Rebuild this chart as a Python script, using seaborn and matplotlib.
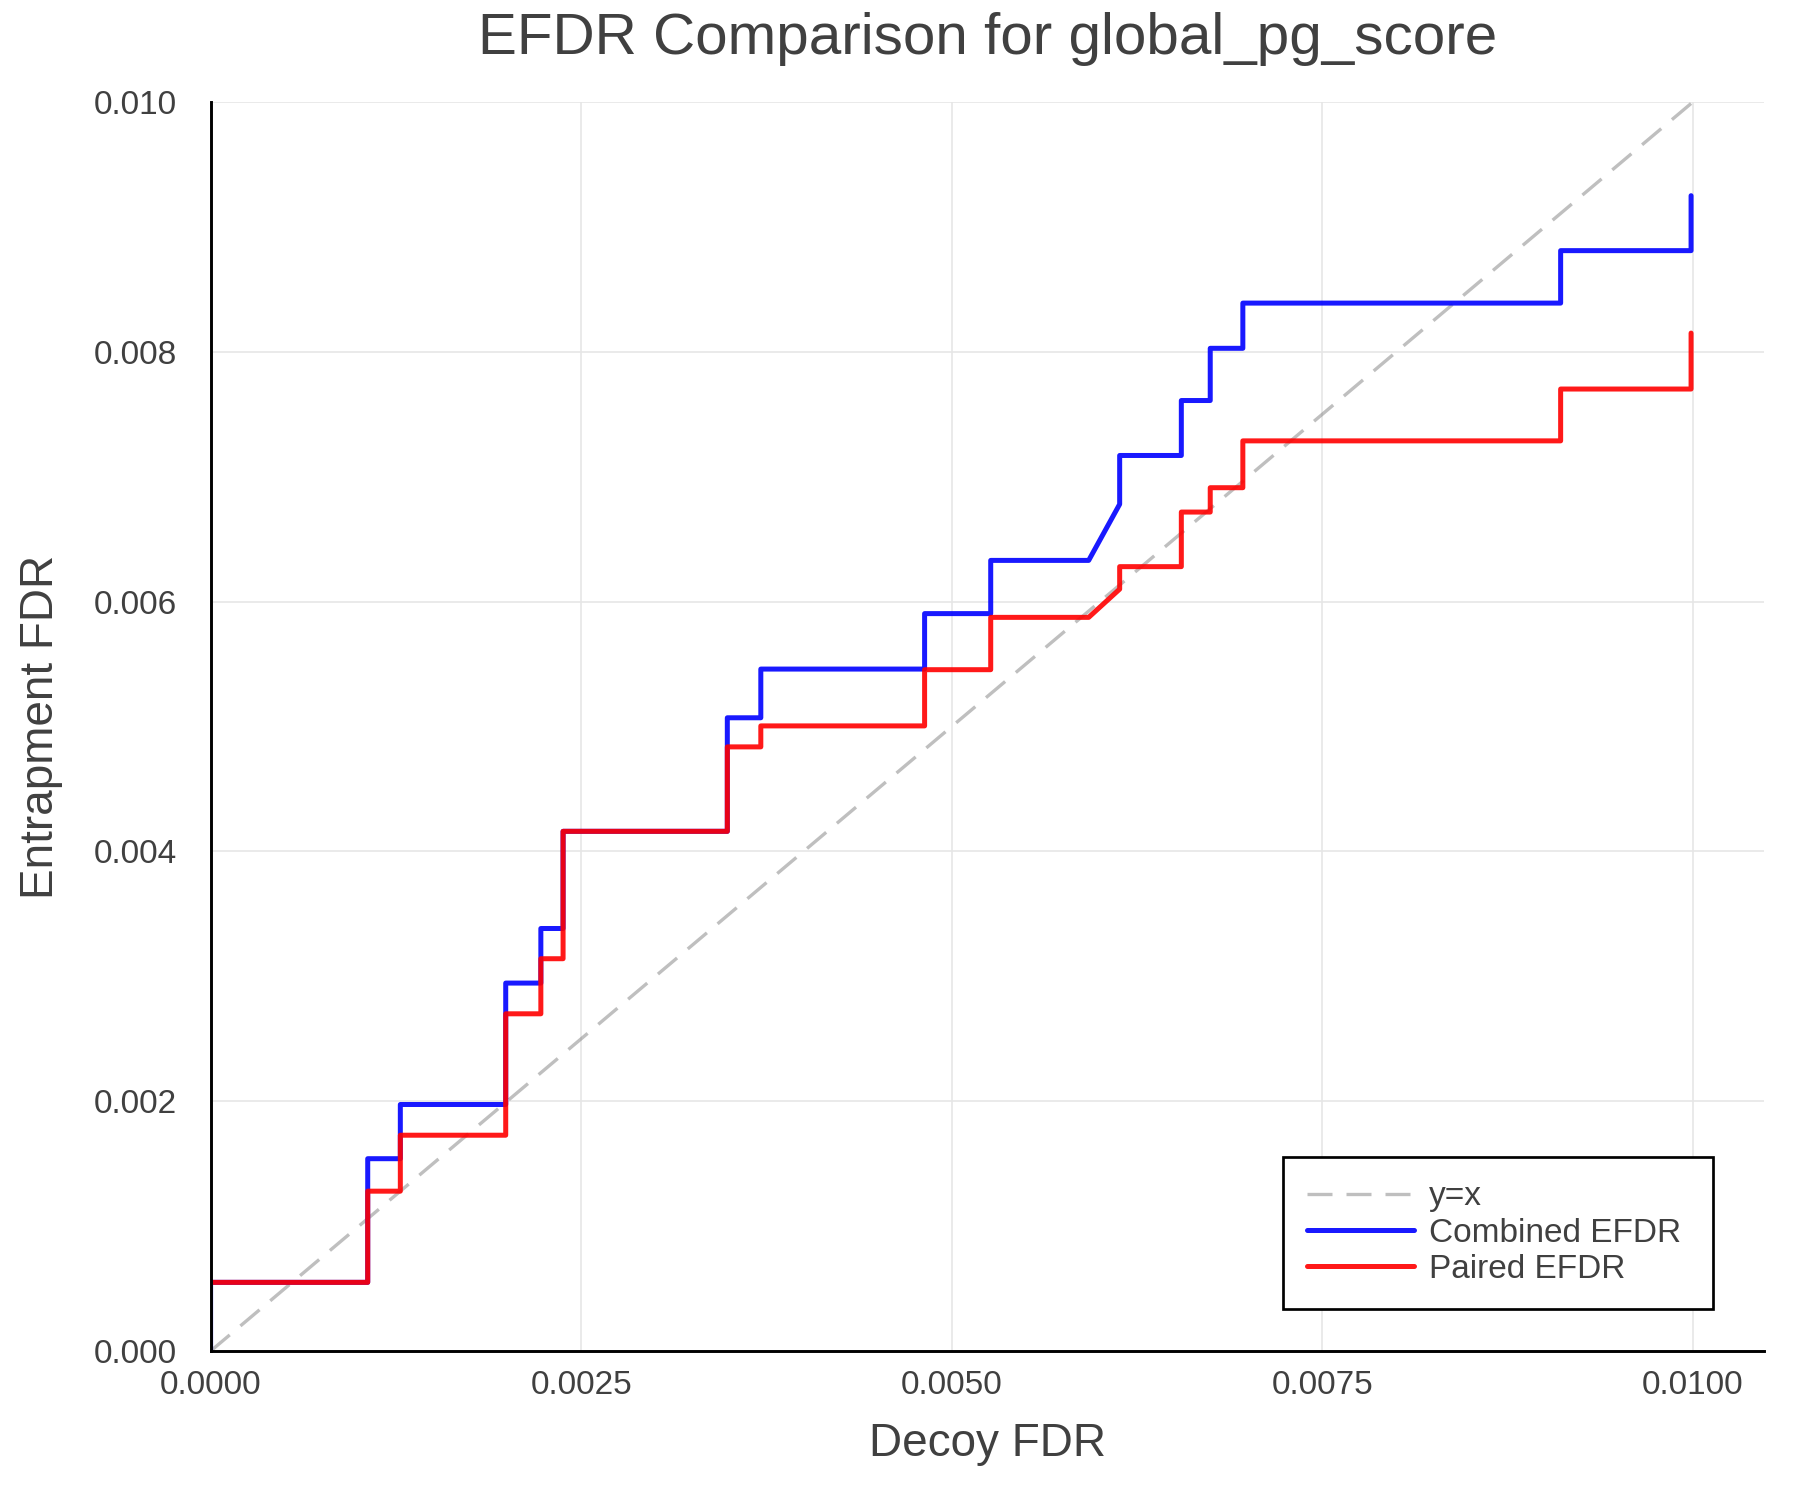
import matplotlib
matplotlib.use("Agg")
import matplotlib.pyplot as plt
import numpy as np
import pandas as pd
import seaborn as sns

# Step curves (vertices in drawing order)
combined_x = [0.0, 0.0, 0.00106, 0.00106, 0.00128, 0.00128, 0.001991, 0.001991,
              0.002228, 0.002228, 0.002378, 0.002378, 0.003486, 0.003486,
              0.003712, 0.003712, 0.004817, 0.004817, 0.005263, 0.005263,
              0.005924, 0.006133, 0.006133, 0.006549, 0.006549, 0.006744,
              0.006744, 0.006964, 0.006964, 0.009108, 0.009108, 0.009988, 0.009988]
combined_y = [0.0, 0.00055, 0.00055, 0.00154, 0.00154, 0.001974, 0.001974, 0.002946,
              0.002946, 0.003383, 0.003383, 0.004161, 0.004161, 0.00507,
              0.00507, 0.00546, 0.00546, 0.005904, 0.005904, 0.00633,
              0.00633, 0.00678, 0.00717, 0.00717, 0.00761, 0.00761,
              0.008028, 0.008028, 0.00839, 0.00839, 0.00881, 0.00881, 0.00925]

paired_x = [0.0, 0.00106, 0.00106, 0.00128, 0.00128, 0.001991, 0.001991,
            0.002228, 0.002228, 0.002378, 0.002378, 0.003486, 0.003486,
            0.003712, 0.003712, 0.004817, 0.004817, 0.005263, 0.005263,
            0.005924, 0.006133, 0.006133, 0.006549, 0.006549, 0.006744,
            0.006744, 0.006964, 0.006964, 0.009108, 0.009108, 0.009988, 0.009988]
paired_y = [0.00055, 0.00055, 0.00128, 0.00128, 0.001728, 0.001728, 0.0027,
            0.0027, 0.003141, 0.003141, 0.004161, 0.004161, 0.004837,
            0.004837, 0.005005, 0.005005, 0.005455, 0.005455, 0.005874,
            0.005874, 0.0061, 0.00628, 0.00628, 0.006717, 0.006717, 0.006912,
            0.006912, 0.007287, 0.007287, 0.007702, 0.007702, 0.00815]

diag_xy = [0.0, 0.01]

x_ticks = [0.0, 0.0025, 0.005, 0.0075, 0.01]
y_ticks = [0.0, 0.002, 0.004, 0.006, 0.008, 0.010]

TEXT = "#404040"

sns.set_style("white")
plt.rcParams["font.family"] = ["Liberation Sans", "DejaVu Sans"]

fig = plt.figure(figsize=(12, 10), dpi=150)
ax = fig.add_axes([0.117, 0.0993, 0.863, 0.8327])
ax.set_axisbelow(True)
ax.grid(True, color="#e6e6e6", lw=0.8)

ax.plot(diag_xy, diag_xy, color="gray", alpha=0.5, lw=1.6,
        linestyle=(0, (7.5, 4.2)), label="y=x")

df_comb = pd.DataFrame({"decoy_fdr": combined_x, "efdr": combined_y})
df_pair = pd.DataFrame({"decoy_fdr": paired_x, "efdr": paired_y})
sns.lineplot(data=df_comb, x="decoy_fdr", y="efdr", estimator=None, sort=False,
             color="blue", alpha=0.9, lw=2.4, label="Combined EFDR", ax=ax)
sns.lineplot(data=df_pair, x="decoy_fdr", y="efdr", estimator=None, sort=False,
             color="red", alpha=0.9, lw=2.4, label="Paired EFDR", ax=ax)

ax.set_xlim(0, 0.01048)
ax.set_ylim(0, 0.010)
ax.set_xticks(x_ticks)
ax.set_yticks(y_ticks)
ax.set_xticklabels([f"{v:.4f}" for v in x_ticks])
ax.set_yticklabels([f"{v:.3f}" for v in y_ticks])

for side in ["top", "right"]:
    ax.spines[side].set_visible(False)
for side in ["left", "bottom"]:
    ax.spines[side].set_color("black")
    ax.spines[side].set_linewidth(1.4)

ax.tick_params(axis="both", direction="in", length=7, width=1.4, color="black",
               labelsize=16, labelcolor=TEXT)
ax.tick_params(axis="x", pad=9)
ax.tick_params(axis="y", pad=16)

ax.set_xlabel("Decoy FDR", fontsize=22, color=TEXT, labelpad=10)
ax.set_ylabel("Entrapment FDR", fontsize=22, color=TEXT, labelpad=15)
ax.set_title("EFDR Comparison for global_pg_score", fontsize=28, color=TEXT, pad=23)

# legend box stretched to the reference width (content stays left-aligned)
leg = ax.legend(loc="lower left", bbox_to_anchor=(0.6904, 0.0336, 0.2768, 0),
                mode="expand", borderaxespad=0,
                fontsize=16, handlelength=3.2, handletextpad=0.45, labelspacing=0.16,
                borderpad=0.72, fancybox=False, framealpha=1, edgecolor="black")
leg.get_frame().set_linewidth(1.3)
for t in leg.get_texts():
    t.set_color(TEXT)

fig.savefig("out.png", dpi=150)
